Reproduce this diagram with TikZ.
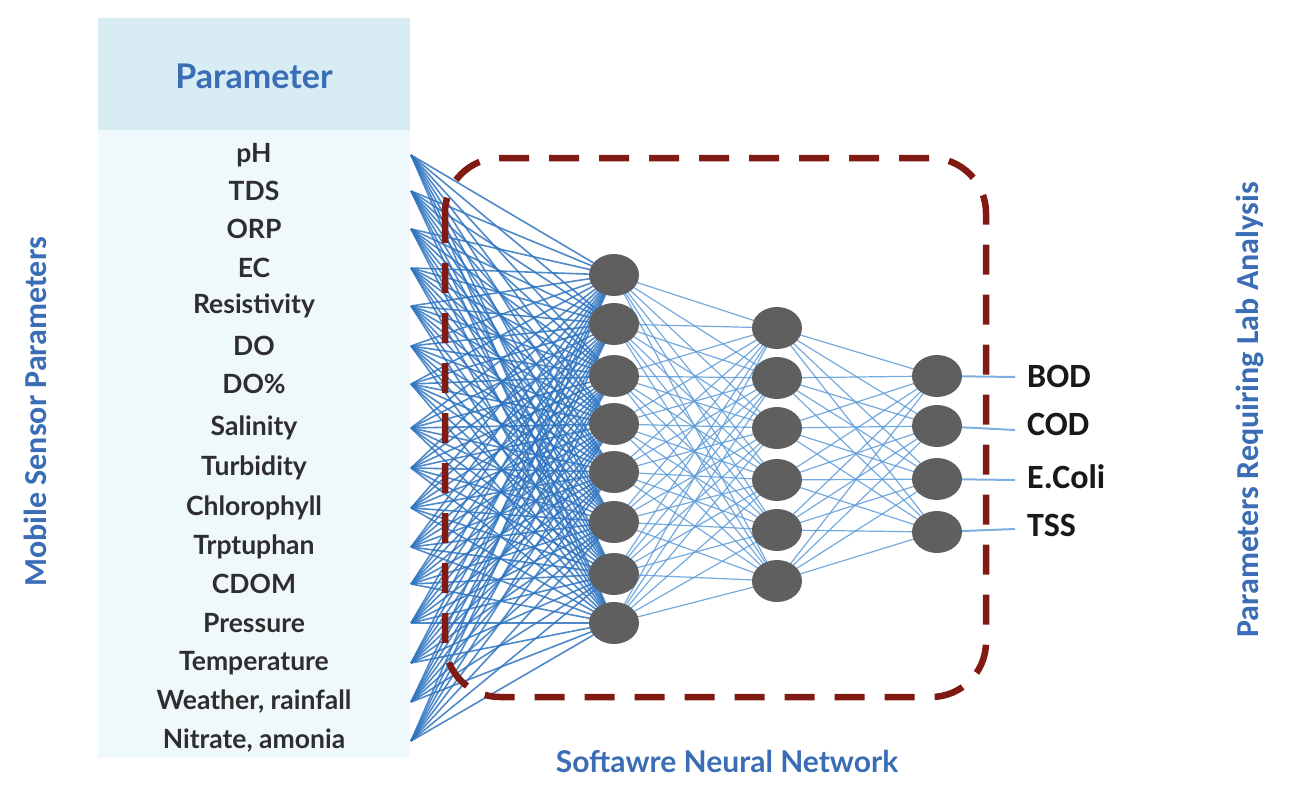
\documentclass[tikz,border=0pt]{standalone}
\usepackage{fontspec}
\setmainfont{Lato}
\newfontfamily\calib{Carlito}
\usetikzlibrary{shapes.geometric}
\pgfdeclarelayer{bg}
\pgfsetlayers{bg,main}
\definecolor{hdrbg}{HTML}{D8ECF3}
\definecolor{bodybg}{HTML}{EFF8FB}
\definecolor{titleblue}{HTML}{3A6DB5}
\definecolor{edgeA}{HTML}{2F74C0}
\definecolor{edgeB}{HTML}{5C9BD8}
\definecolor{neuron}{HTML}{5F5F5F}
\definecolor{boxred}{HTML}{801A12}
\tikzset{
  neuronnode/.style={ellipse, fill=neuron, minimum width=50pt, minimum height=42pt, inner sep=0pt},
  intxt/.style={font=\bfseries\fontsize{26.5}{30}\selectfont, text=black!82, inner sep=0pt},
  outtxt/.style={font=\calib\bfseries\fontsize{34}{38}\selectfont, text=black!90, anchor=west, inner sep=0pt},
  sidetxt/.style={font=\calib\bfseries\fontsize{32}{36}\selectfont, text=titleblue, rotate=90, inner sep=0pt},
  edgein/.style={draw=edgeA, line width=1.6pt, opacity=0.85},
  edgemid/.style={draw=edgeB, line width=1.2pt, opacity=0.85},
  edgeout/.style={draw=edgeB, line width=2pt, opacity=0.8},
  nnbox/.style={draw=boxred, line width=6.5pt, dash pattern=on 30pt off 20pt, rounded corners=55pt}
}
\begin{document}
\begin{tikzpicture}[x=1pt,y=-1pt]
\useasboundingbox (0,0) rectangle (1307,800);
% table
\fill[hdrbg] (98,18) rectangle (410,130);
\fill[bodybg] (98,130) rectangle (410,758);
\node[font=\bfseries\fontsize{34}{38}\selectfont, text=titleblue] (hdr) at (254,76) {Parameter};
% inputs
\foreach \i/\y/\t in {1/155/pH,2/191/TDS,3/229/ORP,4/268/EC,5/306/Resistivity,6/346/DO,7/384/DO\%,8/428/Salinity,9/468/Turbidity,10/508/Chlorophyll,11/547/Trptuphan,12/584/CDOM,13/623/Pressure,14/663/Temperature,15/702/{Weather, rainfall},16/741/{Nitrate, amonia}}{
  \node[intxt] (in\i) at (254,\y) {\t};
  \coordinate (p\i) at (411,\y);
}
% hidden layer 1
\foreach \j/\y in {1/275,2/324,3/376,4/424,5/472,6/522,7/574,8/623}{
  \node[neuronnode] (a\j) at (614,\y) {};
}
% hidden layer 2
\foreach \j/\y in {1/328,2/378,3/428,4/480,5/530,6/581}{
  \node[neuronnode] (b\j) at (777,\y) {};
}
% layer 3
\foreach \j/\y in {1/376,2/426,3/479,4/532}{
  \node[neuronnode] (c\j) at (937,\y) {};
}
% outputs
\foreach \j/\y/\t in {1/376/BOD,2/424/COD,3/477/E.Coli,4/525/TSS}{
  \node[outtxt] (o\j) at (1027,\y) {\t};
}
\coordinate (q1) at (1015,377);
\coordinate (q2) at (1015,430);
\coordinate (q3) at (1015,480);
\coordinate (q4) at (1015,529);
% edges
\begin{pgfonlayer}{bg}
\foreach \i in {1,...,16}{\foreach \j in {1,...,8}{\draw[edgein] (p\i) -- (a\j.center);}}
\foreach \i in {1,...,8}{\foreach \j in {1,...,6}{\draw[edgemid] (a\i.center) -- (b\j.center);}}
\foreach \i in {1,...,6}{\foreach \j in {1,...,4}{\draw[edgemid] (b\i.center) -- (c\j.center);}}
\foreach \j in {1,...,4}{\draw[edgeout] (c\j.center) -- (q\j);}
\end{pgfonlayer}
% dashed box
\draw[nnbox] (445,158) rectangle (986,697);
% labels
\node[sidetxt] (lside) at (35,412) {Mobile Sensor Parameters};
\node[sidetxt] (rside) at (1250,410) {Parameters Requiring Lab Analysis};
\node[font=\bfseries\fontsize{30}{34}\selectfont, text=titleblue] (bottom) at (727,761) {Softawre Neural Network};
\end{tikzpicture}
\end{document}
